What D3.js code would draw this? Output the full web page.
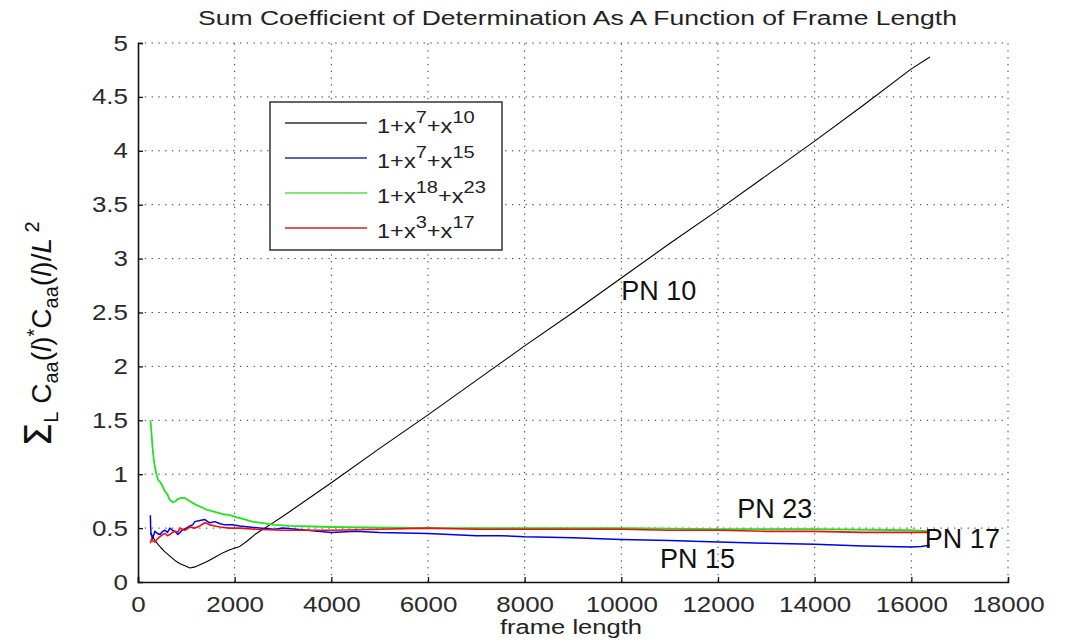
<!DOCTYPE html>
<html>
<head>
<meta charset="utf-8">
<script src="https://cdn.jsdelivr.net/npm/d3@7"></script>
<style>
  html, body { margin: 0; padding: 0; background: #fff; }
  svg { display: block; }
  text { font-family: "Liberation Sans", Arial, sans-serif; }
</style>
</head>
<body>
<svg id="chart" width="1068" height="641"></svg>
<script>
// ---------------- DATA ----------------
const xTicks = [0, 2000, 4000, 6000, 8000, 10000, 12000, 14000, 16000, 18000];
const yTicks = [0, 0.5, 1, 1.5, 2, 2.5, 3, 3.5, 4, 4.5, 5];

// PN 10 : 1+x^7+x^10 (black)
const framesPN10 = [256, 270, 330, 393, 470, 558, 660, 764, 870, 971, 1074, 1180, 1281, 1430, 1591, 1750, 1900, 2107, 2260, 2417, 2520, 2727, 3000, 4000, 5000, 6000, 7000, 8000, 9000, 10000, 11000, 12000, 13000, 14000, 15000, 16000, 16384];
const valuesPN10 = [0.44, 0.45, 0.40, 0.36, 0.32, 0.28, 0.24, 0.20, 0.17, 0.15, 0.13, 0.14, 0.16, 0.19, 0.23, 0.27, 0.30, 0.33, 0.38, 0.44, 0.47, 0.53, 0.61, 0.92, 1.24, 1.55, 1.87, 2.19, 2.50, 2.82, 3.14, 3.45, 3.77, 4.09, 4.42, 4.76, 4.87];

// PN 15 : 1+x^7+x^15 (blue)
const framesPN15 = [256, 262, 270, 300, 350, 400, 455, 510, 558, 610, 660, 710, 764, 826, 870, 909, 1000, 1074, 1130, 1178, 1280, 1384, 1440, 1487, 1590, 1700, 1797, 1950, 2107, 2300, 2520, 2830, 3000, 3500, 4000, 4500, 5000, 6000, 7000, 7500, 8000, 9000, 10000, 11000, 12000, 13000, 14000, 15000, 16000, 16200, 16384];
const valuesPN15 = [0.62, 0.50, 0.45, 0.40, 0.47, 0.45, 0.44, 0.47, 0.48, 0.46, 0.50, 0.48, 0.47, 0.44, 0.46, 0.48, 0.50, 0.52, 0.53, 0.56, 0.57, 0.58, 0.56, 0.55, 0.56, 0.54, 0.53, 0.53, 0.52, 0.51, 0.50, 0.49, 0.50, 0.48, 0.46, 0.47, 0.46, 0.45, 0.43, 0.43, 0.42, 0.41, 0.395, 0.385, 0.37, 0.36, 0.35, 0.335, 0.325, 0.33, 0.34];

// PN 23 : 1+x^18+x^23 (green)
const framesPN23 = [256, 280, 300, 330, 350, 380, 413, 455, 496, 517, 558, 600, 660, 723, 780, 826, 900, 970, 1074, 1180, 1280, 1430, 1590, 1750, 1900, 2050, 2210, 2360, 2520, 2830, 3140, 4000, 6000, 8000, 10000, 12000, 14000, 16000, 16384];
const valuesPN23 = [1.50, 1.38, 1.25, 1.12, 1.07, 1.00, 0.95, 0.93, 0.90, 0.88, 0.84, 0.82, 0.76, 0.74, 0.75, 0.77, 0.78, 0.78, 0.75, 0.72, 0.70, 0.67, 0.65, 0.63, 0.62, 0.60, 0.58, 0.56, 0.55, 0.53, 0.52, 0.51, 0.50, 0.50, 0.50, 0.49, 0.49, 0.48, 0.47];

// PN 17 : 1+x^3+x^17 (red)
const framesPN17 = [256, 280, 310, 350, 400, 455, 510, 558, 610, 660, 710, 764, 820, 868, 920, 971, 1074, 1180, 1280, 1384, 1440, 1487, 1590, 1694, 1900, 2107, 2417, 3000, 4000, 5000, 6000, 7000, 8000, 9000, 10000, 11000, 12000, 13000, 14000, 15000, 16000, 16384];
const valuesPN17 = [0.36, 0.40, 0.38, 0.37, 0.40, 0.42, 0.44, 0.45, 0.43, 0.44, 0.46, 0.47, 0.46, 0.50, 0.49, 0.48, 0.51, 0.50, 0.52, 0.55, 0.54, 0.53, 0.52, 0.51, 0.50, 0.50, 0.49, 0.48, 0.48, 0.49, 0.50, 0.49, 0.49, 0.49, 0.49, 0.48, 0.48, 0.47, 0.47, 0.46, 0.46, 0.46];

const seriesNames = ["PN 10", "PN 15", "PN 23", "PN 17"];
const seriesColors = ["#000000", "#0000ee", "#22e022", "#ee1010"];
const legendColors = ["#333333", "#22339a", "#55dd55", "#cc2222"];

// ---------------- CHART ----------------
const svg = d3.select("#chart");
const x = d3.scaleLinear().domain([0, 18000]).range([138, 1008]);
const y = d3.scaleLinear().domain([0, 5]).range([582, 43]);

// grid
const grid = svg.append("g").attr("stroke", "#333").attr("stroke-width", 1)
  .attr("stroke-dasharray", "1.3,5.5");
grid.selectAll(".vg").data(xTicks.filter(d => d > 0)).join("line")
  .attr("x1", d => x(d)).attr("x2", d => x(d))
  .attr("y1", y(0)).attr("y2", y(5));
grid.selectAll(".hg").data(yTicks.filter(d => d > 0)).join("line")
  .attr("x1", x(0)).attr("x2", x(18000))
  .attr("y1", d => y(d)).attr("y2", d => y(d));

// axes
const xAxis = d3.axisBottom(x).tickValues(xTicks).tickSize(-5).tickPadding(14)
  .tickFormat(d3.format("d"));
const yAxis = d3.axisLeft(y).tickValues(yTicks).tickSize(-5).tickPadding(10)
  .tickFormat(d => String(d));

const gx = svg.append("g").attr("transform", `translate(0,${y(0)})`).call(xAxis);
const gy = svg.append("g").attr("transform", `translate(${x(0)},0)`).call(yAxis);

[gx, gy].forEach(g => {
  g.select(".domain").attr("stroke", "#111").attr("stroke-width", 1.6);
  g.selectAll(".tick line").attr("stroke", "#111").attr("stroke-width", 1.3);
  g.selectAll(".tick text")
    .attr("font-family", '"Liberation Sans", Arial, sans-serif')
    .attr("font-size", 22).attr("fill", "#2a2a2a")
    .each(function () {
      const w = this.getComputedTextLength();
      d3.select(this).attr("textLength", w * 1.18).attr("lengthAdjust", "spacingAndGlyphs");
    });
});
gx.selectAll(".tick").filter(d => d === 18000).select("line").remove();
gy.selectAll(".tick").filter(d => d === 0).select("line").remove();

// lines
const line = d3.line().x(d => x(d[0])).y(d => y(d[1]));
const seriesData = [
  d3.zip(framesPN10, valuesPN10),
  d3.zip(framesPN15, valuesPN15),
  d3.zip(framesPN23, valuesPN23),
  d3.zip(framesPN17, valuesPN17)
];
const widths = [1.1, 1.5, 1.8, 1.6];
svg.append("g").selectAll("path").data(seriesData).join("path")
  .attr("d", line)
  .attr("fill", "none")
  .attr("stroke", (d, i) => seriesColors[i])
  .attr("stroke-width", (d, i) => widths[i])
  .attr("stroke-linejoin", "round");

// annotations
const ann = [
  { t: seriesNames[0], fx: 10000, fy: 2.62 },
  { t: seriesNames[2], fx: 12400, fy: 0.59 },
  { t: seriesNames[1], fx: 10800, fy: 0.13 },
  { t: seriesNames[3], fx: 16280, fy: 0.32 }
];
svg.append("g").selectAll("text").data(ann).join("text")
  .attr("x", d => x(d.fx)).attr("y", d => y(d.fy))
  .attr("font-family", "Lato, 'Open Sans', sans-serif")
  .attr("font-size", 27).attr("fill", "#111")
  .text(d => d.t);

// title
svg.append("text")
  .attr("x", 198).attr("y", 25)
  .attr("font-size", 20).attr("fill", "#222")
  .attr("textLength", 759).attr("lengthAdjust", "spacingAndGlyphs")
  .text("Sum Coefficient of Determination As A Function of Frame Length");

// x label
svg.append("text")
  .attr("x", 571).attr("y", 634).attr("text-anchor", "middle")
  .attr("font-size", 20).attr("fill", "#222")
  .attr("textLength", 142).attr("lengthAdjust", "spacingAndGlyphs")
  .text("frame length");

// y label
const yl = svg.append("text")
  .attr("transform", "translate(51,334) rotate(-90)")
  .attr("text-anchor", "middle")
  .attr("font-size", 28).attr("fill", "#111");
yl.append("tspan").attr("font-size", 38).attr("font-family", "DejaVu Sans").text("Σ");
yl.append("tspan").attr("font-size", 20).attr("dy", 7).text("L");
yl.append("tspan").attr("dy", -7).text(" C");
yl.append("tspan").attr("font-size", 20).attr("dy", 7).text("aa");
yl.append("tspan").attr("dy", -7).text("(");
yl.append("tspan").attr("font-style", "italic").text("l");
yl.append("tspan").text(")");
yl.append("tspan").attr("font-size", 20).attr("dy", -10).text("*");
yl.append("tspan").attr("dy", 10).text("C");
yl.append("tspan").attr("font-size", 20).attr("dy", 7).text("aa");
yl.append("tspan").attr("dy", -7).text("(");
yl.append("tspan").attr("font-style", "italic").text("l");
yl.append("tspan").text(")/");
yl.append("tspan").attr("font-style", "italic").text("L");
yl.append("tspan").attr("font-size", 20).attr("dy", -12).text(" 2");

// legend
const legendLabels = [
  ["1+x", "7", "+x", "10"],
  ["1+x", "7", "+x", "15"],
  ["1+x", "18", "+x", "23"],
  ["1+x", "3", "+x", "17"]
];
const lg = svg.append("g");
lg.append("rect").attr("x", 270).attr("y", 102).attr("width", 232).attr("height", 148)
  .attr("fill", "#fff").attr("stroke", "#333").attr("stroke-width", 1.5);
legendLabels.forEach((lab, i) => {
  const cy = 123 + i * 35;
  lg.append("line").attr("x1", 285).attr("x2", 367).attr("y1", cy).attr("y2", cy)
    .attr("stroke", legendColors[i]).attr("stroke-width", 1.5);
  const t = lg.append("text")
    .attr("transform", `translate(377,${cy + 10}) scale(1.18,1)`)
    .attr("font-size", 20).attr("fill", "#222");
  t.append("tspan").text(lab[0]);
  t.append("tspan").attr("font-size", 17).attr("dy", -10).text(lab[1]);
  t.append("tspan").attr("dy", 10).text(lab[2]);
  t.append("tspan").attr("font-size", 17).attr("dy", -10).text(lab[3]);
});
</script>
</body>
</html>
